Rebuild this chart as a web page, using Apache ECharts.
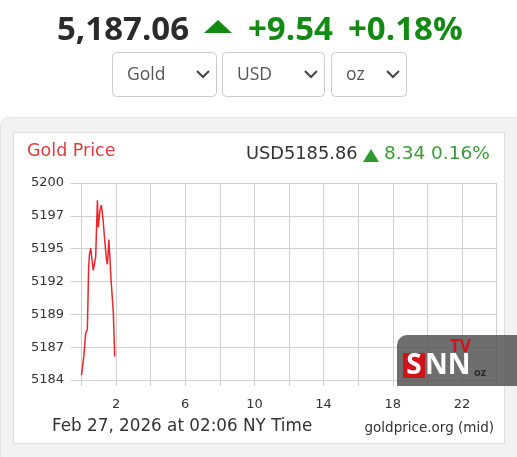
<!DOCTYPE html>
<html>
<head>
<meta charset="utf-8">
<script src="https://cdn.jsdelivr.net/npm/echarts@6/dist/echarts.min.js"></script>
<style>
  html, body { margin: 0; padding: 0; background: #fff; }
  #goldChart { width: 517px; height: 457px; }
</style>
</head>
<body>
<div id="goldChart"></div>
<script>
// hours since midnight (NY time) and mid price
const hours = [0.0, 0.14, 0.24, 0.34, 0.41, 0.46, 0.53, 0.68, 0.82, 0.92, 0.97, 1.07,
    1.15, 1.25, 1.34, 1.44, 1.50, 1.58, 1.65, 1.71, 1.84, 1.92];
const prices = [5184.4, 5186.0, 5187.8, 5188.1, 5193.0, 5194.2, 5194.7, 5192.9, 5194.0,
    5198.6, 5196.4, 5197.8, 5198.2, 5197.0, 5195.4, 5193.8, 5193.4, 5195.4, 5193.8,
    5192.1, 5189.5, 5185.9];
const xLabelHours = [2, 6, 10, 14, 18, 22];
const headline = { price: '5,187.06', change: '+9.54', pct: '+0.18%' };
const quote = { price: 'USD5185.86', change: '8.34', pct: '0.16%' };
const selects = ['Gold', 'USD', 'oz'];
const footerText = 'Feb 27, 2026 at 02:06 NY Time';
const sourceText = 'goldprice.org (mid)';

const green = '#138a13',
    gridColor = '#cfcfcf',
    sans = '"Open Sans", sans-serif',
    verdana = '"DejaVu Sans", Verdana, sans-serif';

const seriesData = hours.map((h, i) => [h, prices[i]]);

// dropdown boxes under the headline
const boxes = [
    { x: 112, w: 104, tx: 127 },
    { x: 222, w: 102, tx: 237 },
    { x: 331, w: 75, tx: 346 },
];
const selectGraphics = [];
boxes.forEach((b, i) => {
    selectGraphics.push({
        type: 'rect', shape: { x: b.x + 0.5, y: 52.5, width: b.w, height: 44, r: 4 },
        style: { fill: '#fff', stroke: '#cccccc', lineWidth: 1 }, z: -5,
    });
    selectGraphics.push({
        type: 'text', x: b.tx, y: 75,
        style: { text: selects[i], font: '17.5px ' + sans, fill: '#555', verticalAlign: 'middle' },
    });
    const cx = b.x + b.w - 13;
    selectGraphics.push({
        type: 'polyline', shape: { points: [[cx - 6, 71], [cx, 77], [cx + 6, 71]] },
        style: { stroke: '#444', lineWidth: 2, fill: null },
    });
});

const option = {
    animation: false,
    grid: { left: 81.5, right: 20.5, top: 183, height: 197 },
    xAxis: {
        type: 'value',
        min: 0,
        max: 24,
        interval: 2,
        axisLine: { show: true, lineStyle: { color: gridColor } },
        axisTick: { show: true, length: 6, lineStyle: { color: gridColor } },
        axisLabel: {
            margin: 18,
            color: '#333',
            fontFamily: verdana,
            fontSize: 13,
            formatter: (v) => (xLabelHours.includes(v) ? String(v) : ''),
        },
        splitLine: { show: true, lineStyle: { color: gridColor } },
    },
    yAxis: {
        type: 'value',
        min: 5184,
        max: 5200,
        interval: 8 / 3,
        axisLine: { show: false },
        axisTick: { show: true, length: 11, lineStyle: { color: gridColor } },
        axisLabel: {
            margin: 17.5,
            color: '#333',
            fontFamily: verdana,
            fontSize: 13,
            formatter: (v) => String(Math.round(v)),
        },
        splitLine: { show: true, lineStyle: { color: gridColor } },
    },
    series: [
        {
            type: 'line',
            data: seriesData,
            showSymbol: false,
            smooth: false,
            lineStyle: { color: '#e8262b', width: 1.5 },
            z: 5,
        },
    ],
    graphic: [
        // page backgrounds
        {
            type: 'rect', shape: { x: 0.5, y: 117.5, width: 530, height: 360, r: [8, 0, 0, 0] },
            style: { fill: '#f2f2f2', stroke: '#e4e4e4' }, z: -10,
        },
        {
            type: 'rect', shape: { x: 13.5, y: 132.5, width: 491, height: 311 },
            style: { fill: '#fff', stroke: '#dddddd' }, z: -9,
        },
        // headline
        {
            type: 'text', x: 57, y: 31,
            style: { text: headline.price, font: 'bold 33px ' + sans, fill: '#2b2b2b', verticalAlign: 'middle' },
        },
        {
            type: 'polygon', shape: { points: [[204, 33], [218, 20], [232, 33]] },
            style: { fill: green },
        },
        {
            type: 'text', x: 248, y: 31,
            style: { text: headline.change, font: 'bold 33px ' + sans, fill: green, verticalAlign: 'middle' },
        },
        {
            type: 'text', x: 348, y: 31,
            style: { text: headline.pct, font: 'bold 33px ' + sans, fill: green, verticalAlign: 'middle' },
        },
        ...selectGraphics,
        // chart title row
        {
            type: 'text', x: 27, y: 151,
            style: { text: 'Gold Price', font: '17.5px ' + verdana, fill: '#e0393e', verticalAlign: 'middle' },
        },
        {
            type: 'text', x: 246, y: 154,
            style: { text: quote.price, font: '17.8px ' + verdana, fill: '#333', verticalAlign: 'middle' },
        },
        {
            type: 'polygon', shape: { points: [[363, 162], [371, 149], [379, 162]] },
            style: { fill: '#2e9a2e' },
        },
        {
            type: 'text', x: 384, y: 154,
            style: { text: quote.change + ' ' + quote.pct, font: '18.5px ' + verdana, fill: '#3a9a3a', verticalAlign: 'middle' },
        },
        // footer
        {
            type: 'text', x: 52, y: 427,
            style: { text: footerText, font: '16.8px ' + verdana, fill: '#333', verticalAlign: 'middle' },
        },
        {
            type: 'text', x: 494, y: 428,
            style: { text: sourceText, font: '13.5px ' + verdana, fill: '#333', align: 'right', verticalAlign: 'middle' },
        },
        // tv watermark
        {
            type: 'rect', shape: { x: 397, y: 335, width: 125, height: 51, r: [10, 0, 0, 0] },
            style: { fill: 'rgba(85,85,85,0.85)' }, z: 100,
        },
        {
            type: 'rect', shape: { x: 403, y: 353, width: 22, height: 25 },
            style: { fill: '#d0121b' }, z: 101,
        },
        {
            type: 'text', x: 414, y: 366,
            style: { text: 'S', font: 'bold 28px ' + sans, fill: '#fff', align: 'center', verticalAlign: 'middle' },
            z: 102,
        },
        {
            type: 'text', x: 425, y: 366,
            style: { text: 'NN', font: 'bold 28px ' + sans, fill: '#fff', verticalAlign: 'middle' },
            z: 102,
        },
        {
            type: 'text', x: 450, y: 347,
            style: { text: 'TV', font: 'bold 17px ' + sans, fill: '#d0121b', verticalAlign: 'middle' },
            z: 102,
        },
        {
            type: 'text', x: 474, y: 373,
            style: { text: 'oz', font: 'bold 11px ' + sans, fill: '#2a2a2a', verticalAlign: 'middle' },
            z: 102,
        },
    ],
};

const myChart = echarts.init(document.getElementById('goldChart'));
myChart.setOption(option);
</script>
</body>
</html>
